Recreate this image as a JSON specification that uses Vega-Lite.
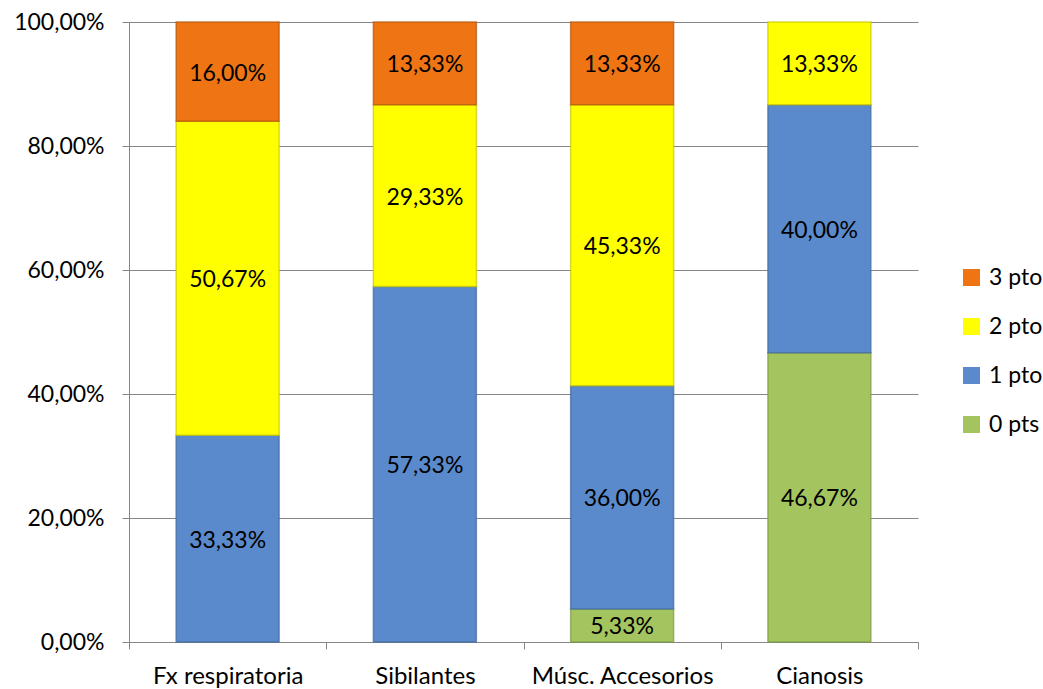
{
  "$schema": "https://vega.github.io/schema/vega-lite/v6.json",
  "width": 789,
  "height": 620,
  "autosize": {"type": "none"},
  "padding": {"left": 129, "top": 22, "right": 125, "bottom": 47},
  "background": "white",
  "config": {
    "locale": {
      "number": {"decimal": ",", "thousands": ".", "grouping": [3], "currency": ["", " €"]}
    },
    "font": "Lato",
    "view": {"stroke": null}
  },
  "data": {
    "values": [
      {"item": "Fx respiratoria", "nivel": "1 pto", "orden": 1, "valor": 0.3333},
      {"item": "Fx respiratoria", "nivel": "2 pto", "orden": 2, "valor": 0.5067},
      {"item": "Fx respiratoria", "nivel": "3 pto", "orden": 3, "valor": 0.16},
      {"item": "Sibilantes", "nivel": "1 pto", "orden": 1, "valor": 0.5733},
      {"item": "Sibilantes", "nivel": "2 pto", "orden": 2, "valor": 0.2933},
      {"item": "Sibilantes", "nivel": "3 pto", "orden": 3, "valor": 0.1333},
      {"item": "Músc. Accesorios", "nivel": "0 pts", "orden": 0, "valor": 0.0533},
      {"item": "Músc. Accesorios", "nivel": "1 pto", "orden": 1, "valor": 0.36},
      {"item": "Músc. Accesorios", "nivel": "2 pto", "orden": 2, "valor": 0.4533},
      {"item": "Músc. Accesorios", "nivel": "3 pto", "orden": 3, "valor": 0.1333},
      {"item": "Cianosis", "nivel": "0 pts", "orden": 0, "valor": 0.4667},
      {"item": "Cianosis", "nivel": "1 pto", "orden": 1, "valor": 0.40},
      {"item": "Cianosis", "nivel": "2 pto", "orden": 2, "valor": 0.1333}
    ]
  },
  "transform": [
    {"stack": "valor", "groupby": ["item"], "sort": [{"field": "orden", "order": "ascending"}], "as": ["y0", "y1"]},
    {"calculate": "(datum.y0 + datum.y1) / 2", "as": "ymid"}
  ],
  "encoding": {
    "x": {
      "field": "item",
      "type": "nominal",
      "sort": ["Fx respiratoria", "Sibilantes", "Músc. Accesorios", "Cianosis"],
      "scale": {"paddingInner": 0, "paddingOuter": 0},
      "axis": {
        "title": null,
        "labelAngle": 0,
        "labelFontSize": 24,
        "labelColor": "#000000",
        "labelPadding": 15,
        "labelLimit": 0,
        "tickBand": "extent",
        "tickSize": 7,
        "tickColor": "#868686",
        "domainColor": "#868686",
        "grid": false
      }
    }
  },
  "layer": [
    {
      "mark": {"type": "bar", "width": {"band": 0.522}, "strokeWidth": 1.5, "strokeOpacity": 0.7},
      "encoding": {
        "y": {
          "field": "y0",
          "type": "quantitative",
          "scale": {"domain": [0, 1], "nice": false},
          "axis": {
            "title": null,
            "format": ".2%",
            "values": [0, 0.2, 0.4, 0.6, 0.8, 1],
            "labelFontSize": 23,
            "labelColor": "#000000",
            "labelPadding": 18,
            "tickSize": 7,
            "tickColor": "#868686",
            "domainColor": "#868686",
            "gridColor": "#868686",
            "gridWidth": 1
          }
        },
        "y2": {"field": "y1"},
        "color": {
          "field": "nivel",
          "type": "nominal",
          "scale": {
            "domain": ["3 pto", "2 pto", "1 pto", "0 pts"],
            "range": ["#EF7514", "#FFFF00", "#5A8ACB", "#A3C45E"]
          },
          "legend": {
            "title": null,
            "orient": "none",
            "legendX": 831,
            "legendY": 244,
            "symbolType": "square",
            "symbolSize": 290,
            "symbolStrokeWidth": 0,
            "labelFontSize": 23,
            "labelColor": "#000000",
            "rowPadding": 25,
            "labelOffset": 6
          }
        },
        "stroke": {
          "field": "nivel",
          "type": "nominal",
          "scale": {
            "domain": ["3 pto", "2 pto", "1 pto", "0 pts"],
            "range": ["#B4560A", "#C8C800", "#3F6A9E", "#7D9A44"]
          },
          "legend": null
        }
      }
    },
    {
      "mark": {"type": "text", "fontSize": 23, "color": "#000000", "baseline": "middle", "align": "center", "dy": 2},
      "encoding": {
        "y": {"field": "ymid", "type": "quantitative"},
        "text": {"field": "valor", "type": "quantitative", "format": ".2%"}
      }
    }
  ]
}
